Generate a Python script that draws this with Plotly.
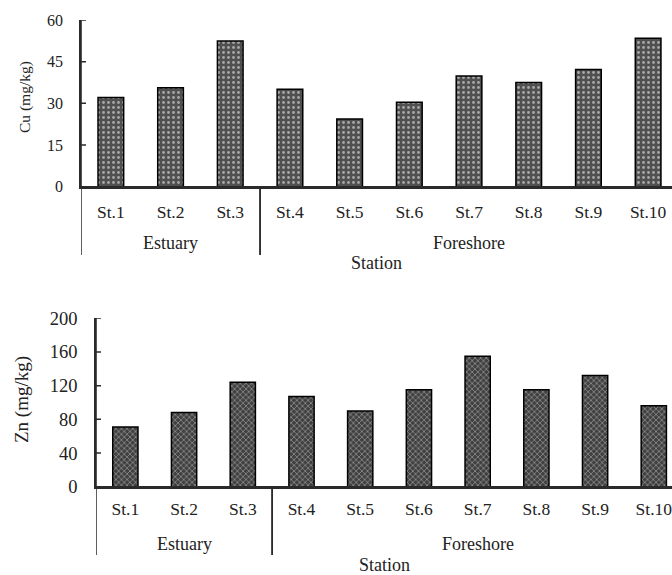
import plotly.graph_objects as go

groups = ["Estuary"] * 3 + ["Foreshore"] * 7
stations = ["St.1", "St.2", "St.3", "St.4", "St.5", "St.6", "St.7", "St.8", "St.9", "St.10"]
cu_values = [32.1, 35.6, 52.4, 35.1, 24.4, 30.4, 39.8, 37.5, 42.2, 53.4]
zn_values = [71, 88, 124, 107, 90, 115, 155, 115, 132, 96]
cu_ticks = [0, 15, 30, 45, 60]
zn_ticks = [0, 40, 80, 120, 160, 200]

FONT = "Liberation Serif, Times New Roman, serif"
W, H = 672, 575
INK = "#222"
LINE = "#2a2a2a"

fig = go.Figure()

fig.add_trace(go.Bar(x=stations, y=cu_values,
                     marker=dict(color="#505050", line=dict(color="black", width=1.5),
                                 pattern=dict(shape=".", fgcolor="white", size=5, solidity=0.25)),
                     width=0.43, xaxis="x", yaxis="y", showlegend=False))
fig.add_trace(go.Bar(x=stations, y=zn_values,
                     marker=dict(color="#404040", line=dict(color="black", width=1.5),
                                 pattern=dict(shape="x", fgcolor="white", size=4, solidity=0.3)),
                     width=0.43, xaxis="x2", yaxis="y2", showlegend=False))

def xaxis(domain, anchor, rng, standoff):
    return dict(domain=domain, anchor=anchor, type="category", range=rng,
                showline=True, linecolor=LINE, linewidth=1.6,
                ticks="", tickfont=dict(family=FONT, size=17.5, color=INK),
                ticklabelstandoff=standoff,
                showgrid=False, zeroline=False, automargin=False)

def yaxis(domain, anchor, rng, ticks, fsize):
    # transparent outside ticks only push the labels away from the axis
    return dict(domain=domain, anchor=anchor, range=rng, tickvals=ticks,
                showline=True, linecolor=LINE, linewidth=1.6,
                ticks="outside", ticklen=13, tickcolor="rgba(255,255,255,0)", tickwidth=1,
                tickfont=dict(family=FONT, size=fsize, color=INK),
                showgrid=False, zeroline=False, automargin=False)

def py(px):
    return (H - px) / H

# pixel geometry of the two panels
TOP = dict(left=81, ytop=20, ybase=186.7, grp=243, title=263, div_end=255, range=[-0.5, 9.4])
BOT = dict(left=96, ytop=318.3, ybase=486.7, grp=544, title=565, div_end=555, range=[-0.5, 9.31])

fig.update_layout(
    width=W, height=H,
    margin=dict(l=0, r=0, t=0, b=0),
    paper_bgcolor="white", plot_bgcolor="white",
    font=dict(family=FONT, size=14, color=INK),
    xaxis=xaxis([TOP["left"] / W, 1.0], "y", TOP["range"], 8),
    yaxis=yaxis([py(TOP["ybase"]), py(TOP["ytop"])], "x", [0, 60], cu_ticks, 16),
    xaxis2=xaxis([BOT["left"] / W, 1.0], "y2", BOT["range"], 5),
    yaxis2=yaxis([py(BOT["ybase"]), py(BOT["ytop"])], "x2", [0, 200], zn_ticks, 18.5),
)

# axis lines and inside tick marks on the value axes (5 px long)
for xref, yref, ticks, P in (("x", "y", cu_ticks, TOP), ("x2", "y2", zn_ticks, BOT)):
    plot_w = W - P["left"]
    fig.add_shape(type="line", xref=f"{xref} domain", yref=f"{yref} domain",
                  x0=0, x1=1, y0=0, y1=0, line=dict(color=LINE, width=1.6))
    fig.add_shape(type="line", xref=f"{xref} domain", yref=f"{yref} domain",
                  x0=0, x1=0, y0=0, y1=1, line=dict(color=LINE, width=1.6))
    for t in ticks:
        fig.add_shape(type="line", xref=f"{xref} domain", yref=yref, x0=0, x1=5 / plot_w,
                      y0=t, y1=t, line=dict(color=LINE, width=1.5))

# group spans from the groups list
spans = []
for i, g in enumerate(groups):
    if spans and spans[-1][0] == g:
        spans[-1][2] = i
    else:
        spans.append([g, i, i])

for xref, P in (("x", TOP), ("x2", BOT)):
    for g, i0, i1 in spans:
        fig.add_annotation(xref=xref, yref="paper", x=(i0 + i1) / 2, y=py(P["grp"]),
                           text=g, showarrow=False, xanchor="center", yanchor="middle",
                           font=dict(family=FONT, size=18, color=INK))
        for xb in (i0 - 0.5, i1 + 0.5):
            fig.add_shape(type="line", xref=xref, yref="paper", x0=xb, x1=xb,
                          y0=py(P["ybase"]), y1=py(P["div_end"]),
                          line=dict(color=LINE, width=1.5))
    fig.add_annotation(xref="paper", yref="paper", x=(P["left"] + W) / 2 / W, y=py(P["title"]),
                       text="Station", showarrow=False, xanchor="center", yanchor="middle",
                       font=dict(family=FONT, size=18, color=INK))

fig.add_annotation(xref="paper", yref="paper", x=25 / W, y=py(97), text="Cu (mg/kg)",
                   textangle=-90, showarrow=False, xanchor="center", yanchor="middle",
                   font=dict(family=FONT, size=15.5, color=INK))
fig.add_annotation(xref="paper", yref="paper", x=22 / W, y=py(400), text="Zn (mg/kg)",
                   textangle=-90, showarrow=False, xanchor="center", yanchor="middle",
                   font=dict(family=FONT, size=19, color=INK))

fig.write_html("out.html", config={"displayModeBar": False},
               post_script="document.body.style.margin='0px';document.body.style.overflow='hidden';")
